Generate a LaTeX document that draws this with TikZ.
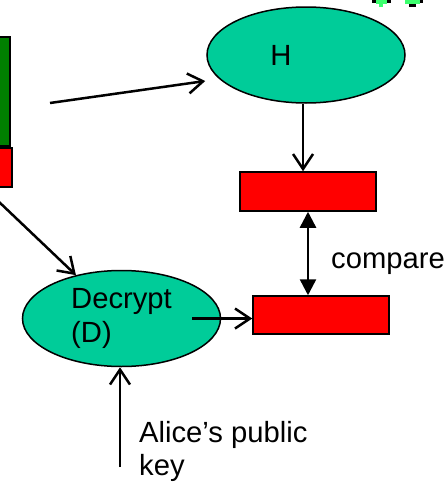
\documentclass[tikz,border=0pt]{standalone}
\usepackage{fontspec}
\setmainfont{Liberation Sans}
\usetikzlibrary{arrows.meta,shapes.geometric,calc}
\definecolor{teal1}{RGB}{0,204,153}
\definecolor{dkgreen}{RGB}{0,128,0}
\definecolor{brgreen}{RGB}{60,255,110}
\tikzset{
  ellnode/.style={ellipse,draw=black,line width=1.5pt,fill=teal1,minimum width=198pt,minimum height=96pt,inner sep=0pt,align=left},
  redbox/.style={draw=black,line width=1.5pt,fill=red},
  arr/.style={line width=2.5pt,-{Straight Barb[length=15pt,width=20pt,line width=2.5pt]}},
  dblarr/.style={line width=2.5pt,{Triangle[length=16pt,width=16pt]}-{Triangle[length=16pt,width=16pt]}},
  lbl/.style={inner sep=0pt,align=left,font=\fontsize{29.2}{33.5}\selectfont}
}
\begin{document}
\begin{tikzpicture}[x=1pt,y=-1pt]
\useasboundingbox (0,0) rectangle (446,482);
\clip (0,0) rectangle (446,482);
% cut-off boxes at left
\draw[draw=black,line width=1.5pt,fill=dkgreen] (-20,37) rectangle (10,146);
\draw[redbox] (-20,148) rectangle (12,187);
% tiny bits top right
\fill[black] (372,0) rectangle (376,3);
\fill[brgreen] (376,0) rectangle (387,3.5);
\fill[brgreen] (379,3) rectangle (383,7);
\fill[black] (387,0) rectangle (391,3);
\fill[brgreen] (405,0) rectangle (420,3.5);
\fill[black] (409,3.5) rectangle (416,7);
\fill[black] (420,0) rectangle (423,3);
% nodes
\node[ellnode] (H) at (306,55) {};
\node[lbl,anchor=base] (Htxt) at (281,65) {H};
\node[ellnode,font=\fontsize{29.2}{33.5}\selectfont] (D) at (121.5,318.5) {Decrypt\\(D)};
\node[redbox,minimum width=136pt,minimum height=39pt,inner sep=0pt] (B1) at (308,191.5) {};
\node[redbox,minimum width=136pt,minimum height=38pt,inner sep=0pt] (B2) at (321,315) {};
\node[lbl,anchor=base west] (cmp) at (331,268) {compare};
\node[lbl,anchor=base west] (alice) at (139,475.5) {Alice’s public\\key};
\coordinate (src1) at (50,103);
\coordinate (src2) at (-3,200);
\coordinate (keyc) at (120,467);
% connectors
\draw[arr] (src1) -- ([shift={(-1,26)}]H.west);
\draw[arr] ([xshift=-3pt]H.south) -- ([xshift=-3pt]H.south |- B1.north);
\draw[dblarr] ([xshift=-13pt]B2.north |- B1.south) -- ([xshift=-13pt]B2.north);
\draw[arr] (src2) -- (D);
\draw[arr] ([xshift=70.5pt]D.center) -- (D.center -| B2.west);
\draw[arr] (keyc) -- (keyc |- D.south);
\end{tikzpicture}
\end{document}
